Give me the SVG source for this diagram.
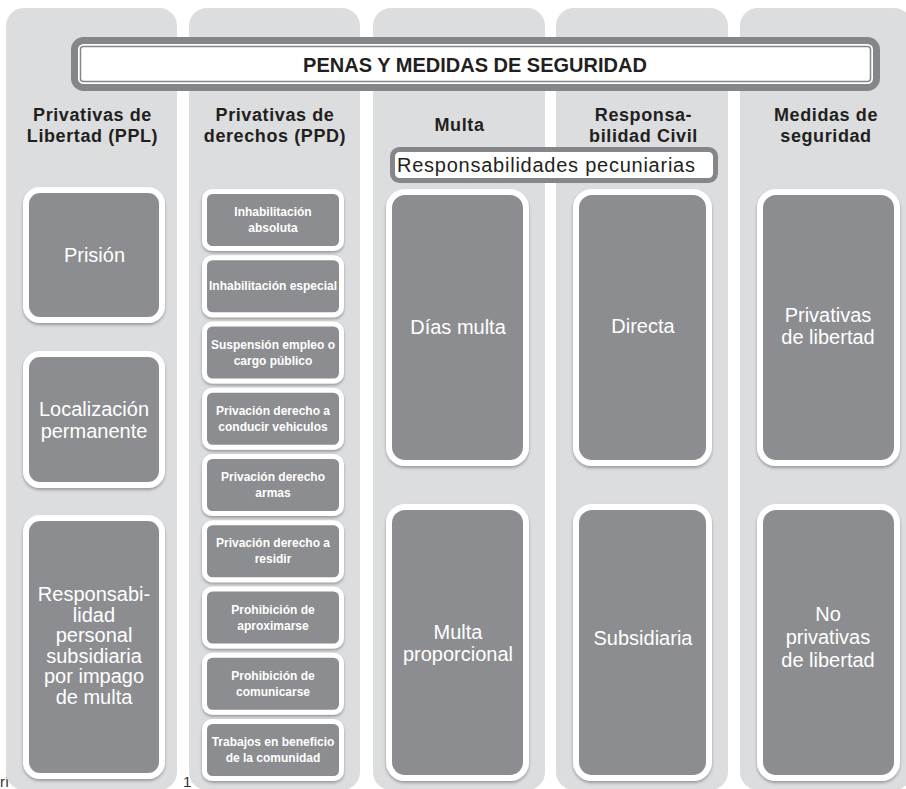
<svg xmlns="http://www.w3.org/2000/svg" width="906" height="789" viewBox="0 0 906 789">
<style>
.col{fill:#dcdddf}
.box{fill:#8c8d90;stroke:#fff;stroke-width:6;filter:url(#sh)}
.sbox{fill:#8c8d90;stroke:#fff;stroke-width:5;filter:url(#sh)}
.hd{font-family:"Liberation Sans",Arial,sans-serif;font-weight:bold;font-size:18px;fill:#231f20;text-anchor:middle;letter-spacing:0.6px}
.bt{font-family:"Liberation Sans",Arial,sans-serif;font-size:20px;fill:#fff;text-anchor:middle}
.st{font-family:"Liberation Sans",Arial,sans-serif;font-weight:bold;font-size:12px;fill:#fff;text-anchor:middle}
.frag{font-family:"Liberation Sans",Arial,sans-serif;font-size:15px;fill:#333}
</style>
<defs>
<filter id="sh" x="-10%" y="-10%" width="120%" height="125%">
<feDropShadow dx="0" dy="2" stdDeviation="1.5" flood-color="#000" flood-opacity="0.3"/>
</filter>
</defs>
<rect width="906" height="789" fill="#fff"/>
<text class="frag" x="0" y="787">rí</text>
<text class="frag" x="183" y="787">1</text>
<g id="columns">
<rect class="col" x="6" y="8" width="171" height="782" rx="18"/>
<rect class="col" x="189" y="8" width="171" height="782" rx="18"/>
<rect class="col" x="373" y="8" width="172" height="782" rx="18"/>
<rect class="col" x="556" y="8" width="172" height="782" rx="18"/>
<rect class="col" x="740" y="8" width="172" height="782" rx="18"/>
</g>
<g id="title">
<rect x="74.5" y="40.5" width="802" height="47" rx="9" fill="#fff" stroke="#858689" stroke-width="7"/>
<rect x="80.5" y="46.5" width="790" height="35" rx="3" fill="none" stroke="#858689" stroke-width="1.5"/>
<text x="475" y="72" font-family="Liberation Sans, Arial, sans-serif" font-weight="bold" font-size="20" fill="#231f20" text-anchor="middle">PENAS Y MEDIDAS DE SEGURIDAD</text>
</g>
<g id="headers">
<text class="hd" x="92.5" y="121">Privativas de</text>
<text class="hd" x="92.5" y="142">Libertad (PPL)</text>
<text class="hd" x="275" y="121">Privativas de</text>
<text class="hd" x="275" y="142">derechos (PPD)</text>
<text class="hd" x="459.5" y="131">Multa</text>
<text class="hd" x="643.5" y="121">Responsa-</text>
<text class="hd" x="643.5" y="142">bilidad Civil</text>
<text class="hd" x="826" y="121">Medidas de</text>
<text class="hd" x="826" y="142">seguridad</text>
</g>
<g id="pecuniarias">
<rect x="392.5" y="149.5" width="323" height="31" rx="7" fill="#fff" stroke="#858689" stroke-width="5"/>
<text x="397" y="172" font-family="Liberation Sans, Arial, sans-serif" font-size="20" fill="#231f20" textLength="298" lengthAdjust="spacing">Responsabilidades pecuniarias</text>
</g>
<g id="prision"><rect class="box" x="26" y="190" width="136" height="130" rx="14"/><text class="bt" x="94.5" y="262">Prisión</text></g>
<g id="localizacion"><rect class="box" x="26" y="354" width="136" height="131" rx="14"/><text class="bt" x="94" y="416">Localización</text><text class="bt" x="94" y="438">permanente</text></g>
<g id="rps"><rect class="box" x="26" y="518" width="136" height="258" rx="14"/>
<text class="bt" x="94" y="601">Responsabi-</text><text class="bt" x="94" y="621.5">lidad</text><text class="bt" x="94" y="642">personal</text><text class="bt" x="94" y="662.5">subsidiaria</text><text class="bt" x="94" y="683">por impago</text><text class="bt" x="94" y="703.5">de multa</text></g>
<g id="ppd1"><rect class="sbox" x="204.5" y="191.5" width="137" height="57" rx="8"/><text class="st" x="273" y="216">Inhabilitación</text><text class="st" x="273" y="232">absoluta</text></g>
<g id="ppd2"><rect class="sbox" x="204.5" y="257.75" width="137" height="57" rx="8"/><text class="st" x="273" y="290.25">Inhabilitación especial</text></g>
<g id="ppd3"><rect class="sbox" x="204.5" y="324" width="137" height="57" rx="8"/><text class="st" x="273" y="348.5">Suspensión empleo o</text><text class="st" x="273" y="364.5">cargo público</text></g>
<g id="ppd4"><rect class="sbox" x="204.5" y="390.25" width="137" height="57" rx="8"/><text class="st" x="273" y="414.75">Privación derecho a</text><text class="st" x="273" y="430.75">conducir vehiculos</text></g>
<g id="ppd5"><rect class="sbox" x="204.5" y="456.5" width="137" height="57" rx="8"/><text class="st" x="273" y="481">Privación derecho</text><text class="st" x="273" y="497">armas</text></g>
<g id="ppd6"><rect class="sbox" x="204.5" y="522.75" width="137" height="57" rx="8"/><text class="st" x="273" y="547.25">Privación derecho a</text><text class="st" x="273" y="563.25">residir</text></g>
<g id="ppd7"><rect class="sbox" x="204.5" y="589" width="137" height="57" rx="8"/><text class="st" x="273" y="613.5">Prohibición de</text><text class="st" x="273" y="629.5">aproximarse</text></g>
<g id="ppd8"><rect class="sbox" x="204.5" y="655.25" width="137" height="57" rx="8"/><text class="st" x="273" y="679.75">Prohibición de</text><text class="st" x="273" y="695.75">comunicarse</text></g>
<g id="ppd9"><rect class="sbox" x="204.5" y="721.5" width="137" height="57" rx="8"/><text class="st" x="273" y="746">Trabajos en beneficio</text><text class="st" x="273" y="762">de la comunidad</text></g>
<g id="diasmulta"><rect class="box" x="389" y="192" width="137" height="271" rx="16"/><text class="bt" x="458" y="334" font-size="21">Días multa</text></g>
<g id="multaprop"><rect class="box" x="389" y="507" width="137" height="271" rx="16"/><text class="bt" x="458" y="639" font-size="21">Multa</text><text class="bt" x="458" y="661" font-size="21">proporcional</text></g>
<g id="directa"><rect class="box" x="576" y="192" width="133" height="271" rx="16"/><text class="bt" x="643" y="333" font-size="22">Directa</text></g>
<g id="subsidiaria"><rect class="box" x="576" y="507" width="133" height="271" rx="16"/><text class="bt" x="643" y="645" font-size="22">Subsidiaria</text></g>
<g id="privlib"><rect class="box" x="760" y="192" width="137" height="271" rx="16"/><text class="bt" x="828" y="322">Privativas</text><text class="bt" x="828" y="344">de libertad</text></g>
<g id="noprivlib"><rect class="box" x="760" y="507" width="137" height="271" rx="16"/><text class="bt" x="828" y="621">No</text><text class="bt" x="828" y="644">privativas</text><text class="bt" x="828" y="667">de libertad</text></g>
<g id="connectors"></g>
</svg>
